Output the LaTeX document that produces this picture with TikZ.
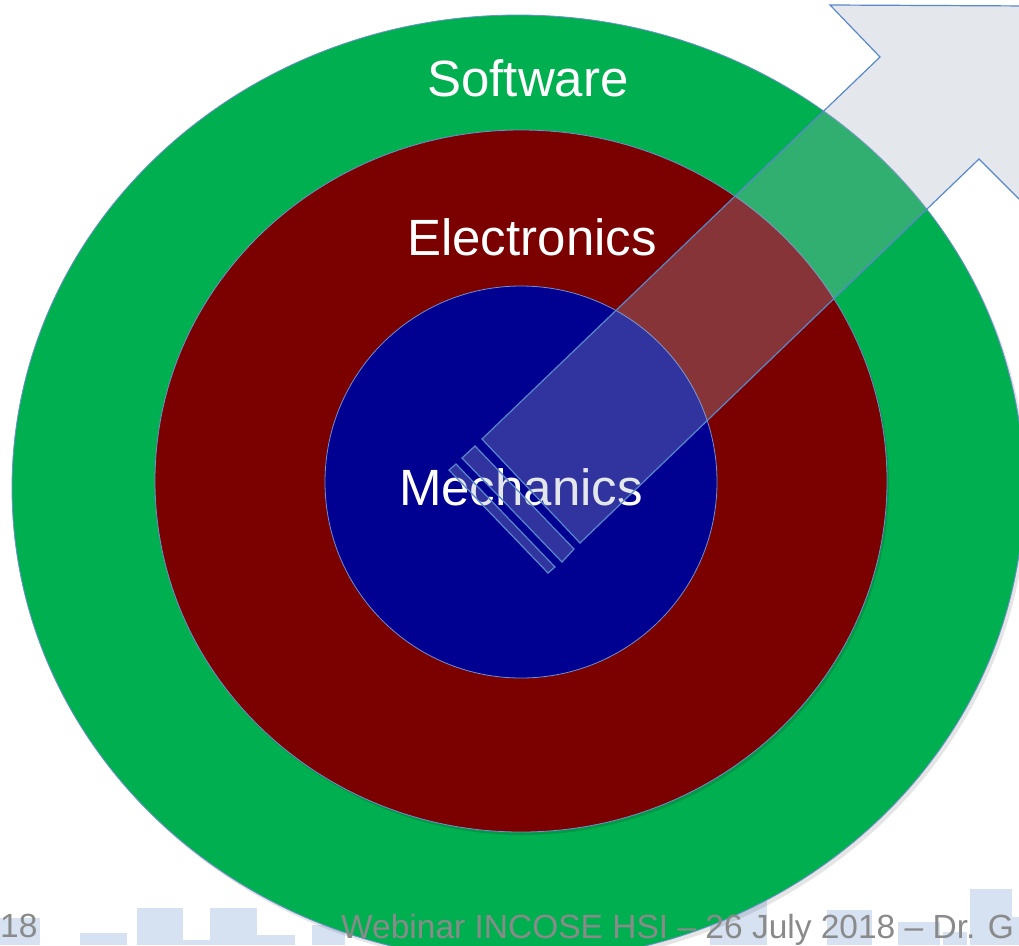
\documentclass[tikz,border=0pt]{standalone}
\usepackage{fontspec}
\setmainfont{Liberation Sans}
\usepackage{xcolor}
\usepackage{tikz}
\definecolor{softgreen}{RGB}{0,176,80}
\definecolor{elecred}{RGB}{123,0,0}
\definecolor{mechblue}{RGB}{0,0,145}
\definecolor{rimblue}{RGB}{112,142,210}
\definecolor{arrowgray}{RGB}{165,175,192}
\definecolor{arrowline}{RGB}{88,136,204}
\definecolor{footgray}{RGB}{138,138,138}
\definecolor{skyblue}{RGB}{214,226,241}

\tikzset{
  ring/.style={draw=rimblue, line width=0.8pt},
  ringlabel/.style={text=white, inner sep=0pt, font=\fontsize{51}{60}\selectfont},
  blockarrow/.style={draw=arrowline, line width=1.2pt, line join=miter,
    fill=arrowgray, fill opacity=0.3, draw opacity=1},
  footer/.style={text=footgray, inner sep=0pt, font=\fontsize{33.5}{40}\selectfont}
}

\begin{document}
\begin{tikzpicture}[x=1pt,y=-1pt]
    \useasboundingbox (0,0) rectangle (1019,945);
    \clip (0,0) rectangle (1019,945);

    % Faint skyline behind the footer
    \foreach \xa/\xb/\ytop in {0/40/918, 80/127/933, 137/183/908, 210/257/908,
        180/225/940, 245/295/935, 312/345/925, 710/767/900, 827/872/910,
        898/940/922, 943/967/932, 970/1012/889, 1012/1019/917}
        \fill[skyblue] (\xa,\ytop) rectangle (\xb,945);

    % Soft shadow of the outer ring
    \fill[black, opacity=0.1] (521,492) ellipse [x radius=506, y radius=473];

    % The three nested layers
    \draw[ring, fill=softgreen] (518,488) ellipse [x radius=506, y radius=473];
    \fill[black, opacity=0.12] (523,484) ellipse [x radius=366, y radius=351];
    \draw[ring, fill=elecred] (521,481) ellipse [x radius=366, y radius=351];
    \draw[ring, fill=mechblue] (521,482) circle [radius=196];

    % Layer names
    \node[ringlabel, anchor=base] (software) at (528,96) {Software};
    \node[ringlabel, anchor=base] (electronics) at (532,255) {Electronics};
    \node[ringlabel, anchor=base] (mechanics) at (521,505) {Mechanics};

    % Striped block arrow pointing out of the core
    \filldraw[blockarrow] (482,439) -- (880,57) -- (830,5) -- (1031,6)
        -- (1030,210) -- (979,159) -- (580,543) -- cycle;
    \filldraw[blockarrow] (462,458) -- (475,446) -- (574,549) -- (562,562) -- cycle;
    \filldraw[blockarrow] (449,470) -- (456,464) -- (555,567) -- (548,573) -- cycle;

    % Footer line of the slide
    \node[footer, anchor=base west] (pagenum) at (0,937) {18};
    \node[footer, anchor=base west] (webinar) at (341,938)
        {Webinar INCOSE HSI – 26 July 2018 – Dr. G};

\end{tikzpicture}
\end{document}
